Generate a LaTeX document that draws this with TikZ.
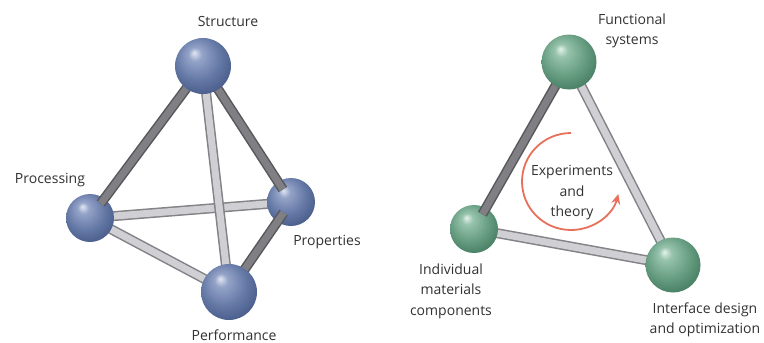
\documentclass[tikz,border=0pt]{standalone}
\usepackage{fontspec}
\setmainfont{Open Sans}
\usetikzlibrary{arrows.meta}
\definecolor{txt}{RGB}{50,50,50}
\definecolor{lroded}{RGB}{130,130,135}
\definecolor{lrodin}{RGB}{208,208,212}
\definecolor{droded}{RGB}{88,88,92}
\definecolor{drodin}{RGB}{128,128,132}
\definecolor{arrowred}{RGB}{232,112,90}
\definecolor{bA}{RGB}{225,230,242}
\definecolor{bB}{RGB}{148,163,200}
\definecolor{bC}{RGB}{100,120,165}
\definecolor{bD}{RGB}{66,85,130}
\definecolor{bE}{RGB}{35,52,95}
\definecolor{gA}{RGB}{228,242,234}
\definecolor{gB}{RGB}{150,195,172}
\definecolor{gC}{RGB}{102,156,128}
\definecolor{gD}{RGB}{62,118,92}
\definecolor{gE}{RGB}{32,85,62}
\pgfdeclareradialshading{bsph}{\pgfpoint{-8bp}{12bp}}{color(0bp)=(bA); color(6bp)=(bB); color(20bp)=(bC); color(34bp)=(bD); color(48bp)=(bE)}
\pgfdeclareradialshading{gsph}{\pgfpoint{-8bp}{12bp}}{color(0bp)=(gA); color(6bp)=(gB); color(20bp)=(gC); color(34bp)=(gD); color(48bp)=(gE)}
\pgfdeclarelayer{bg}
\pgfdeclarelayer{rodback}
\pgfdeclarelayer{ballback}
\pgfdeclarelayer{rodfront}
\pgfsetlayers{bg,rodback,ballback,rodfront,main}
\begin{document}
\begin{tikzpicture}[x=1pt,y=-1pt,
  sphere/.style={circle, inner sep=0pt, minimum size=#1},
  bluesph/.style={sphere=#1, shading=bsph},
  greensph/.style={sphere=#1, shading=gsph},
  lightrod/.style={draw=lroded, double=lrodin, line width=1.5pt, double distance=7pt},
  darkrod/.style={draw=droded, double=drodin, line width=1.5pt, double distance=7pt},
  lbl/.style={font=\fontsize{14}{20.5}\selectfont, text=txt, align=center, inner sep=0pt},
  cycarrow/.style={draw=arrowred, line width=1.8pt, -{Stealth[length=10pt,width=9pt]}}
]
\begin{pgfonlayer}{bg}
\fill[white] (0,0) rectangle (764,343);
\end{pgfonlayer}
\useasboundingbox (0,0) rectangle (764,343);

% left spheres
\begin{pgfonlayer}{ballback}
\node[bluesph=48pt] (P) at (90,218) {};
\node[bluesph=48pt] (Pr) at (291,202) {};
\end{pgfonlayer}
\node[bluesph=56pt] (S) at (203,66) {};
\node[bluesph=56pt] (Pf) at (229,292) {};

% right spheres
\begin{pgfonlayer}{ballback}
\node[greensph=48pt] (I) at (474,229) {};
\end{pgfonlayer}
\node[greensph=55pt] (F) at (569,62) {};
\node[greensph=55pt] (IF) at (673,265) {};

% rods behind
\begin{pgfonlayer}{rodback}
\draw[lightrod] (P.center) -- (Pr.center);
\draw[lightrod] (P.center) -- (Pf.center);
\draw[lightrod] (S.center) -- (Pf.center);
\draw[lightrod] (F.center) -- (IF.center);
\draw[lightrod] (I.center) -- (IF.center);
\end{pgfonlayer}

% rods in front of the back spheres
\begin{pgfonlayer}{rodfront}
\draw[darkrod, shorten >=18pt] (S.center) -- (P.center);
\draw[darkrod, shorten >=15pt] (S.center) -- (Pr.center);
\draw[darkrod, shorten >=13pt] (Pf.center) -- (Pr.center);
\draw[darkrod, shorten >=17pt] (F.center) -- (I.center);
\end{pgfonlayer}

% labels
\node[lbl] (tS) at (228,21) {Structure};
\node[lbl] (tP) at (50,180) {Processing};
\node[lbl] (tPr) at (327,242) {Properties};
\node[lbl] (tPf) at (234,335) {Performance};
\node[lbl] (tF) at (632,31) {Functional\\systems};
\node[lbl] (tI) at (451,291) {Individual\\materials\\components};
\node[lbl] (tIF) at (705,320) {Interface design\\and optimization};
\node[lbl] (tE) at (572,193) {Experiments\\and\\theory};

% cycle arrow
\coordinate (arcstart) at (571,133);
\draw[cycarrow] (arcstart) arc[start angle=270, end angle=15, x radius=49, y radius=48.5];
\end{tikzpicture}
\end{document}
